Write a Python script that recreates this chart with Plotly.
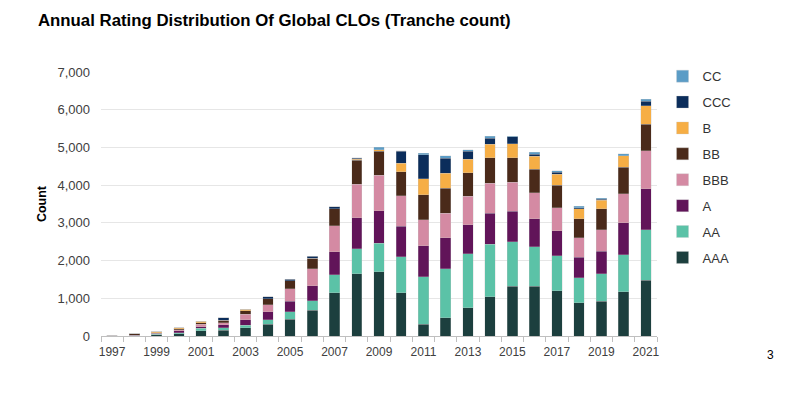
import plotly.graph_objects as go

years = list(range(1997, 2022))

AAA = [5, 10, 27, 62, 133, 150, 221, 310, 443, 681, 1150, 1646, 1708, 1150, 310, 478, 752, 1035, 1319, 1319, 1195, 876, 920, 1177, 1478]
AA  = [0, 0, 18, 27, 71, 71, 62, 115, 195, 257, 469, 673, 752, 956, 1266, 1310, 1425, 1398, 1186, 1044, 938, 664, 726, 974, 1336]
A   = [3, 10, 27, 44, 44, 80, 142, 212, 283, 398, 611, 823, 867, 805, 814, 814, 770, 823, 797, 752, 655, 549, 602, 850, 1097]
BBB = [8, 5, 0, 27, 62, 53, 150, 186, 327, 451, 699, 885, 938, 814, 699, 655, 752, 797, 779, 681, 611, 513, 566, 770, 1000]
BB  = [3, 35, 18, 35, 44, 62, 89, 159, 212, 274, 451, 628, 628, 628, 655, 664, 628, 673, 646, 628, 602, 513, 558, 699, 699]
B   = [0, 0, 18, 27, 35, 0, 44, 0, 0, 0, 0, 35, 44, 221, 425, 389, 354, 354, 372, 336, 283, 257, 230, 310, 496]
CCC = [0, 0, 0, 0, 0, 71, 0, 53, 44, 53, 44, 18, 0, 319, 637, 398, 212, 168, 186, 62, 53, 35, 27, 0, 124]
CC  = [0, 0, 0, 0, 0, 0, 0, 0, 0, 0, 0, 18, 62, 18, 44, 71, 44, 44, 10, 53, 44, 35, 27, 53, 44]

series = [
    ("AAA", AAA, "#1c3f3e"),
    ("AA", AA, "#5bc2a7"),
    ("A", A, "#611459"),
    ("BBB", BBB, "#d48aa3"),
    ("BB", BB, "#4a2a1a"),
    ("B", B, "#f6ae45"),
    ("CCC", CCC, "#0b2d5b"),
    ("CC", CC, "#5b9cc6"),
]

# page body has an 8px margin; figure coordinates = screen - 8
OFF = 8
PL, PR, PT, PB = 101 - OFF, 657 - OFF, 72 - OFF, 336 - OFF
W, H = 802, 394

fig = go.Figure()
n = len(series)
for i, (name, vals, color) in enumerate(series):
    fig.add_trace(go.Bar(
        x=years, y=vals, name=name, legendgroup=name,
        legendrank=n - i,
        marker=dict(color=color, line=dict(color="rgba(200,200,200,0.6)", width=0.5)),
        width=0.47,
    ))

pw, ph = PR - PL, PB - PT

fig.update_layout(
    barmode="stack",
    width=W, height=H,
    margin=dict(l=PL, r=W - PR, t=PT, b=H - PB),
    paper_bgcolor="white", plot_bgcolor="white",
    font=dict(family="Liberation Sans, Arial, sans-serif", size=12, color="#404040"),
    title=dict(text="<b>Annual Rating Distribution Of Global CLOs (Tranche count)</b>",
               x=(38 - OFF) / W, xanchor="left", y=1 - (20 - OFF) / H, yanchor="middle",
               font=dict(size=16.8, color="#000000")),
    showlegend=True,
    legend=dict(traceorder="grouped", tracegroupgap=6, maxheight=1,
                x=1.01, xanchor="left", y=1.041, yanchor="top",
                font=dict(size=13, color="#333333"),
                bgcolor="rgba(0,0,0,0)"),
)

fig.update_xaxes(
    range=[1996.5, 2021.5],
    tickmode="array", tickvals=list(range(1997, 2022, 2)),
    ticktext=[str(y) for y in range(1997, 2022, 2)],
    ticks="", showgrid=False, ticklabelstandoff=5,
    showline=True, linecolor="#bfbfbf", linewidth=1,
    tickfont=dict(size=12, color="#404040"),
    minor=dict(tickmode="linear", tick0=1996.5, dtick=1, ticks="outside",
               ticklen=5, tickcolor="#bfbfbf", showgrid=False),
    zeroline=False,
)

fig.update_yaxes(
    range=[0, 7000], dtick=1000, tickformat=",",
    showgrid=True, gridcolor="#e6e6e6", gridwidth=1,
    showline=False, zeroline=False, ticks="", ticklabelstandoff=10,
    tickfont=dict(size=13, color="#404040"),
    title=dict(text="<b>Count</b>", font=dict(size=12.5, color="#000000"), standoff=8),
)

fig.add_annotation(text="3", xref="paper", yref="paper",
                   x=(770 - 101) / pw, y=(336 - 355) / ph, showarrow=False,
                   font=dict(size=12, color="#000000"), xanchor="center", yanchor="middle")

fig.write_html("out.html")
